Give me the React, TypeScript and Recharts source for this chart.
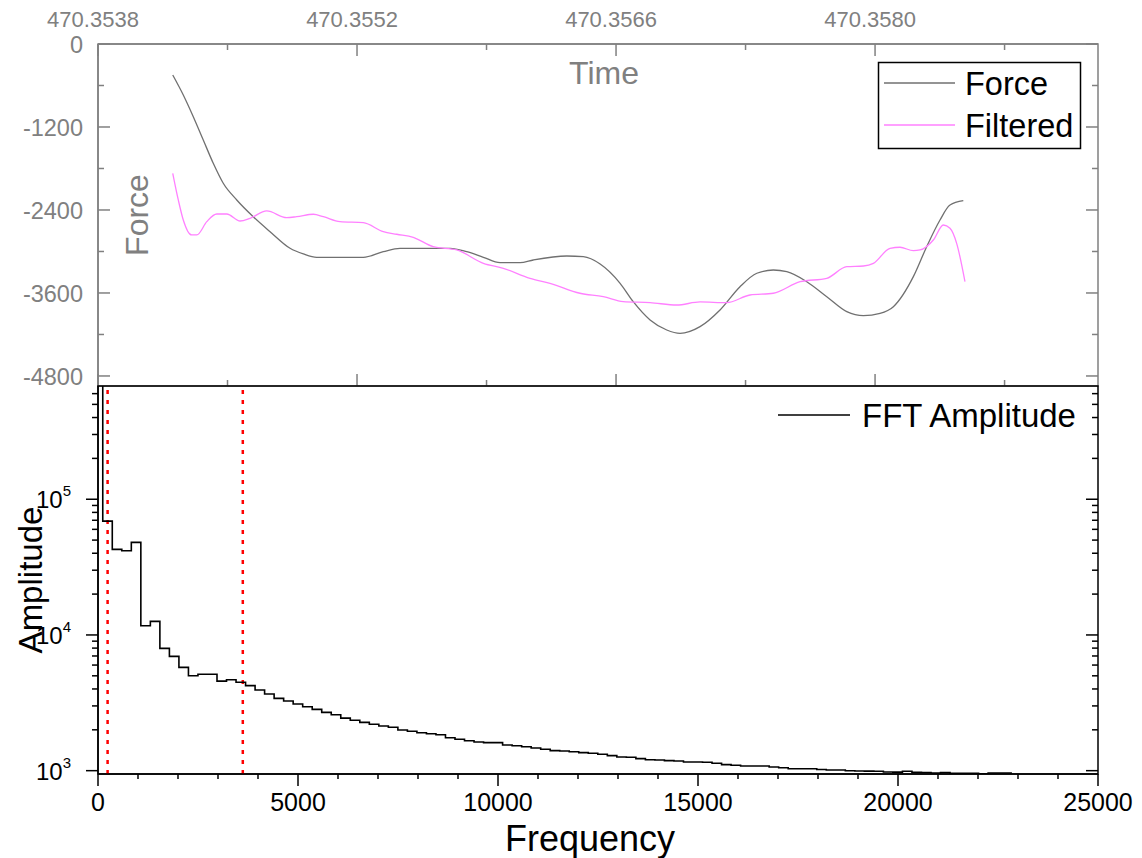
import React from 'react';
import { LineChart, Line, XAxis, YAxis, ReferenceLine, ReferenceArea } from 'recharts';

// ---------- tick values ----------
const timeMajorTicks = [470.3538, 470.3552, 470.3566, 470.358];
const timeMinorTicks = [470.3545, 470.3559, 470.3573, 470.3587];
const forceMajorTicks = [0, -1200, -2400, -3600, -4800];
const forceMinorTicks = [-600, -1800, -3000, -4200];
const freqMajorTicks = [0, 5000, 10000, 15000, 20000, 25000];
const freqMinorTicks = [1000, 2000, 3000, 4000, 6000, 7000, 8000, 9000, 11000, 12000, 13000, 14000, 16000, 17000, 18000, 19000, 21000, 22000, 23000, 24000];
const ampMajorTicks = [1000, 10000, 100000];
const ampMinorTicks = [2000, 3000, 4000, 5000, 6000, 7000, 8000, 9000, 20000, 30000, 40000, 50000, 60000, 70000, 80000, 90000, 200000, 300000, 400000, 500000, 600000];

// ---------- top panel: Force / Filtered vs Time ----------
const forceTime = [
  470.354204, 470.354261, 470.354315, 470.354369, 470.354423, 470.354477, 470.35455, 470.354639,
  470.35473, 470.354838, 470.35491, 470.354982, 470.355234, 470.355342, 470.355432, 470.355703,
  470.355793, 470.355883, 470.355973, 470.356081, 470.356153, 470.356334, 470.356423, 470.356514,
  470.356622, 470.356693, 470.356784, 470.356874, 470.356946, 470.357054, 470.357162, 470.35727,
  470.357361, 470.35745, 470.357523, 470.357631, 470.357739, 470.357847, 470.357937, 470.358027,
  470.358099, 470.358207, 470.358279, 470.358351, 470.358405, 470.358477,
];
const forceValue = [
  -448, -737, -1051, -1388, -1725, -2014, -2255, -2497,
  -2714, -2954, -3036, -3084, -3084, -3003, -2954, -2954,
  -3003, -3084, -3162, -3162, -3123, -3065, -3075, -3181,
  -3460, -3726, -3990, -4135, -4183, -4087, -3846, -3509,
  -3315, -3268, -3292, -3437, -3654, -3870, -3928, -3894,
  -3798, -3364, -2931, -2545, -2328, -2266,
];
const filteredTime = [
  470.354204, 470.354234, 470.354261, 470.354306, 470.354334, 470.354388, 470.354442, 470.354496,
  470.354568, 470.354622, 470.354712, 470.35482, 470.354874, 470.354964, 470.355018, 470.355108,
  470.355234, 470.355342, 470.355415, 470.355504, 470.355612, 470.355739, 470.355883, 470.355991,
  470.356135, 470.356243, 470.356405, 470.356531, 470.356639, 470.356784, 470.356928, 470.357054,
  470.357198, 470.357324, 470.35745, 470.357595, 470.357739, 470.357847, 470.357937, 470.357991,
  470.358081, 470.358135, 470.358207, 470.358243, 470.358315, 470.358369, 470.358405, 470.358441,
  470.358486,
];
const filteredValue = [
  -1869, -2255, -2545, -2761, -2761, -2569, -2458, -2458,
  -2559, -2520, -2414, -2511, -2497, -2462, -2497, -2569,
  -2584, -2714, -2751, -2795, -2931, -2978, -3171, -3243,
  -3388, -3460, -3604, -3654, -3726, -3740, -3774, -3730,
  -3740, -3629, -3604, -3437, -3388, -3220, -3210, -3171,
  -2954, -2939, -2989, -2978, -2834, -2617, -2665, -2882,
  -3437,
];

// ---------- bottom panel: FFT amplitude vs Frequency ----------
const fftFrequency = [
  0, 238, 476, 714, 952, 1190, 1428, 1666, 1904, 2142,
  2380, 2618, 2856, 3094, 3332, 3570, 3808, 4046, 4284, 4522,
  4760, 4998, 5236, 5474, 5712, 5950, 6188, 6426, 6664, 6902,
  7140, 7378, 7616, 7854, 8092, 8330, 8568, 8806, 9044, 9282,
  9520, 9758, 9996, 10234, 10472, 10710, 10948, 11186, 11424, 11662,
  11900, 12138, 12376, 12614, 12852, 13090, 13328, 13566, 13804, 14042,
  14280, 14518, 14756, 14994, 15232, 15470, 15708, 15946, 16184, 16422,
  16660, 16898, 17136, 17374, 17612, 17850, 18088, 18326, 18564, 18802,
  19040, 19278, 19516, 19754, 19992, 20230, 20468, 20706, 20944, 21182,
  21420, 21658, 21896, 22134, 22372, 22610, 22848,
];
const fftAmplitude = [
  3000000, 69000, 42700, 41700, 48100, 11700, 12600, 7960, 6950, 5770,
  5010, 5130, 5130, 4570, 4680, 4480, 4230, 3930, 3670, 3410,
  3260, 3100, 2960, 2830, 2690, 2580, 2440, 2350, 2270, 2196,
  2134, 2087, 1994, 1951, 1905, 1873, 1841, 1750, 1703, 1663,
  1627, 1608, 1608, 1546, 1528, 1502, 1470, 1437, 1404, 1397,
  1380, 1357, 1343, 1321, 1290, 1261, 1255, 1226, 1205, 1199,
  1185, 1179, 1159, 1159, 1153, 1134, 1107, 1095, 1083, 1083,
  1083, 1065, 1052, 1034, 1034, 1034, 1020, 1012, 1012, 998,
  994, 992, 990, 978, 975, 990, 972, 970, 960, 970,
  958, 957, 956, 950, 960, 962, 962,
];
const cutoffFrequencies = [240, 3620];

const forceData = forceTime.map((t, i) => ({ t, v: forceValue[i] }));
const filteredData = filteredTime.map((t, i) => ({ t, v: filteredValue[i] }));
const fftData = fftFrequency.map((f, i) => ({ f, a: fftAmplitude[i] }));

// ---------- layout / style ----------
const W = 1142;
const H = 858;
const GREY = '#808080';
const PINK = '#ff80ff';
const FONT = "'Liberation Sans', Arial, sans-serif";
const TOP_W = 1000;
const TOP_H = 342;
const BOT_W = 1000;
const BOT_H = 388;

const near = (arr: number[], v: number) => arr.some((m) => Math.abs(m - v) < 1e-7 * Math.max(1, Math.abs(m)));

const TopTimeTick = (p: any) => {
  const { x, y, payload } = p;
  const major = near(timeMajorTicks, payload.value);
  const len = major ? 12 : 6;
  return (
    <g>
      <line x1={x} y1={y} x2={x} y2={y + len} stroke={GREY} strokeWidth={1.5} />
      <line x1={x} y1={y + TOP_H} x2={x} y2={y + TOP_H - len} stroke={GREY} strokeWidth={1.5} />
      {major && (
        <text x={x - 5} y={y - 17} textAnchor="middle" fill={GREY} fontSize={22} fontFamily={FONT}>
          {payload.value.toFixed(4)}
        </text>
      )}
    </g>
  );
};

const ForceTick = (p: any) => {
  const { x, y, payload } = p;
  const major = near(forceMajorTicks, payload.value);
  const len = major ? 12 : 6;
  return (
    <g>
      <line x1={x} y1={y} x2={x + len} y2={y} stroke={GREY} strokeWidth={1.5} />
      <line x1={x + TOP_W} y1={y} x2={x + TOP_W - len} y2={y} stroke={GREY} strokeWidth={1.5} />
      {major && (
        <text x={x - 15} y={y + 9} textAnchor="end" fill={GREY} fontSize={23.5} fontFamily={FONT}>
          {String(payload.value)}
        </text>
      )}
    </g>
  );
};

const FreqTick = (p: any) => {
  const { x, y, payload } = p;
  const major = near(freqMajorTicks, payload.value);
  const len = major ? 12 : 5;
  return (
    <g>
      <line x1={x} y1={y} x2={x} y2={y + len} stroke="#000" strokeWidth={1.5} />
      {major && (
        <text x={x} y={y + 37} textAnchor="middle" fill="#000" fontSize={25} fontFamily={FONT}>
          {String(payload.value)}
        </text>
      )}
    </g>
  );
};

const AmpTick = (p: any) => {
  const { x, y, payload } = p;
  const major = near(ampMajorTicks, payload.value);
  const len = major ? 12 : 6;
  const exp = Math.round(Math.log10(payload.value));
  return (
    <g>
      <line x1={x} y1={y} x2={x - len} y2={y} stroke="#000" strokeWidth={1.5} />
      <line x1={x + BOT_W} y1={y} x2={x + BOT_W - len} y2={y} stroke="#000" strokeWidth={1.5} />
      {major && (
        <text x={x - 27} y={y + 9} textAnchor="end" fill="#000" fontSize={24} fontFamily={FONT}>
          <tspan>10</tspan>
          <tspan dy={-12} fontSize={15}>{String(exp)}</tspan>
        </text>
      )}
    </g>
  );
};

export default function App() {
  return (
    <div style={{ position: 'absolute', left: 0, top: 0, width: W, height: H, background: '#fff', overflow: 'hidden', fontFamily: FONT }}>
      <div style={{ position: 'absolute', left: 0, top: 0 }}>
        <LineChart width={W} height={H} margin={{ top: 0, right: 44, bottom: H - 44 - TOP_H, left: 0 }}>
          <XAxis
            dataKey="t"
            type="number"
            orientation="top"
            height={44}
            domain={[470.3538, 470.359205]}
            allowDataOverflow
            ticks={[...timeMajorTicks, ...timeMinorTicks]}
            interval={0}
            tickSize={0}
            tickMargin={0}
            tickLine={false}
            tick={TopTimeTick}
            axisLine={{ stroke: GREY, strokeWidth: 1.5 }}
          />
          <YAxis
            type="number"
            width={98}
            domain={[-4945, 0]}
            allowDataOverflow
            ticks={[...forceMajorTicks, ...forceMinorTicks]}
            interval={0}
            tickSize={0}
            tickMargin={0}
            tickLine={false}
            tick={ForceTick}
            axisLine={{ stroke: GREY, strokeWidth: 1.5 }}
          />
          <ReferenceArea x1={470.3538} x2={470.359205} y1={-4945} y2={0} fill="none" stroke={GREY} strokeWidth={1.5} ifOverflow="visible" />
          <Line data={forceData} dataKey="v" type="monotone" stroke="#707070" strokeWidth={1.3} dot={false} isAnimationActive={false} />
          <Line data={filteredData} dataKey="v" type="monotone" stroke={PINK} strokeWidth={1.3} dot={false} isAnimationActive={false} />
        </LineChart>
      </div>
      <div style={{ position: 'absolute', left: 0, top: 0 }}>
        <LineChart width={W} height={H} data={fftData} margin={{ top: 386, right: 44, bottom: 0, left: 0 }}>
          <XAxis
            dataKey="f"
            type="number"
            height={H - 386 - BOT_H}
            domain={[0, 25000]}
            allowDataOverflow
            ticks={[...freqMajorTicks, ...freqMinorTicks]}
            interval={0}
            tickSize={0}
            tickMargin={0}
            tickLine={false}
            tick={FreqTick}
            axisLine={{ stroke: '#000', strokeWidth: 1.5 }}
          />
          <YAxis
            type="number"
            scale="log"
            width={98}
            domain={[945, 683000]}
            allowDataOverflow
            ticks={[...ampMajorTicks, ...ampMinorTicks]}
            interval={0}
            tickSize={0}
            tickMargin={0}
            tickLine={false}
            tick={AmpTick}
            axisLine={{ stroke: '#000', strokeWidth: 1.5 }}
          />
          <ReferenceArea x1={0} x2={25000} y1={945} y2={683000} fill="none" stroke="#000" strokeWidth={1.5} ifOverflow="visible" />
          {cutoffFrequencies.map((f) => (
            <ReferenceLine key={f} x={f} stroke="#ff0000" strokeWidth={2.5} strokeDasharray="4 6" />
          ))}
          <Line dataKey="a" type="step" stroke="#000" strokeWidth={1.6} dot={false} isAnimationActive={false} />
        </LineChart>
      </div>
      <svg width={W} height={H} style={{ position: 'absolute', left: 0, top: 0, pointerEvents: 'none' }} fontFamily={FONT}>
        <text x={604} y={84} textAnchor="middle" fill={GREY} fontSize={32}>Time</text>
        <text x={137} y={215} textAnchor="middle" dominantBaseline="central" fill={GREY} fontSize={32} transform="rotate(-90 137 215)">Force</text>
        <text x={30} y={580} textAnchor="middle" dominantBaseline="central" fill="#000" fontSize={33} transform="rotate(-90 30 580)">Amplitude</text>
        <text x={590} y={851} textAnchor="middle" fill="#000" fontSize={36}>Frequency</text>
        <rect x={878.5} y={62.5} width={202} height={86} fill="#fff" stroke="#000" strokeWidth={1.5} />
        <line x1={884} y1={83} x2={955} y2={83} stroke="#707070" strokeWidth={1.3} />
        <text x={965} y={95} fill="#000" fontSize={32.5}>Force</text>
        <line x1={884} y1={125} x2={955} y2={125} stroke={PINK} strokeWidth={1.3} />
        <text x={965} y={137} fill="#000" fontSize={32.5}>Filtered</text>
        <line x1={778} y1={415} x2={850} y2={415} stroke="#000" strokeWidth={1.6} />
        <text x={862} y={427} fill="#000" fontSize={33}>FFT Amplitude</text>
      </svg>
    </div>
  );
}
